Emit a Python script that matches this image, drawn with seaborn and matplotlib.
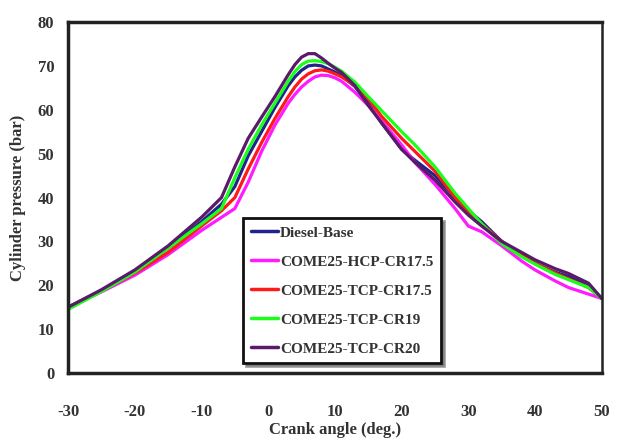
import pandas as pd
import seaborn as sns
import matplotlib.pyplot as plt

# crank angle (deg.)
crank = [-30, -25, -20, -15, -10, -7, -5, -3, -1, 1, 3, 4, 5, 6, 7, 8, 9, 10, 11, 13, 15,
         17, 20, 22, 25, 28, 30, 32, 35, 38, 40, 43, 45, 48, 50]

# cylinder pressure (bar)
diesel_base = [15, 18.8, 23, 28.5, 34.5, 38.5, 42.5, 49.5, 55, 60.5, 65.5, 67.5, 69, 70, 70.2,
               70, 69.3, 68.6, 67.8, 65.3, 61.5, 57, 51, 48.5, 45, 40, 37, 34.5, 30, 27, 25,
               23, 22, 19.8, 17]
hcp_cr175 = [15, 18.5, 22.3, 27, 32.5, 35.5, 37.5, 43.5, 50.5, 56.5, 61.5, 63.5, 65.2, 66.5, 67.5,
             67.9, 67.8, 67.3, 66.5, 64, 61, 57.5, 52, 48, 43, 37.5, 33.5, 32.2, 29, 25.5, 23.5,
             21, 19.5, 18, 17]
tcp_cr175 = [15, 18.7, 22.8, 27.5, 33.5, 37, 40, 46.5, 52.5, 58, 63, 65.2, 67, 68.2, 68.9,
             69.1, 68.8, 68.2, 67.5, 65.5, 62.5, 58.5, 53.5, 50.5, 46, 40, 36.5, 34, 30, 27, 25,
             22.8, 21.5, 19.5, 17]
tcp_cr19 = [14.5, 18.6, 23, 28.5, 34, 37.5, 44.5, 51, 56.5, 61.5, 66.5, 68.7, 70.3, 71.1, 71.2,
            71, 70.5, 69.7, 68.8, 66.3, 63, 59.8, 55, 52, 47, 41, 37.5, 34, 29.5, 26.5, 24.8,
            22.5, 21.3, 19.5, 17]
tcp_cr20 = [15, 19, 23.5, 29, 35.5, 40, 47, 53.5, 58.3, 63, 68, 70.3, 72, 72.8, 72.8,
            71.8, 70.6, 69.5, 68.5, 65.5, 61, 57, 51, 48, 44, 39, 36, 33.5, 30, 27.5, 25.8,
            23.8, 22.7, 20.5, 17]

labels = ['Diesel-Base', 'COME25-HCP-CR17.5', 'COME25-TCP-CR17.5',
          'COME25-TCP-CR19', 'COME25-TCP-CR20']
colors = ['#23238f', '#ff1aff', '#ff1a1a', '#1aff1a', '#5a1a6a']
series = [diesel_base, hcp_cr175, tcp_cr175, tcp_cr19, tcp_cr20]

rows = []
for lab, vals in zip(labels, series):
    for a, p in zip(crank, vals):
        rows.append({'angle': a, 'pressure': p, 'fuel': lab})
df = pd.DataFrame(rows)

sns.set_style('white')
plt.rcParams['font.family'] = ['Liberation Serif', 'DejaVu Serif']
plt.rcParams['font.weight'] = 'bold'
plt.rcParams['axes.unicode_minus'] = False

fig = plt.figure(figsize=(6.2, 4.41), dpi=100)
ax = fig.add_axes([0.1097, 0.154, 0.861, 0.796])

sns.lineplot(data=df, x='angle', y='pressure', hue='fuel', hue_order=labels,
             palette=dict(zip(labels, colors)), sort=False, estimator=None,
             linewidth=2.3, ax=ax)

ax.set_xlim(-30, 50)
ax.set_ylim(0, 80)
ax.set_xticks(range(-30, 51, 10))
ax.set_yticks(range(0, 81, 10))
ax.tick_params(axis='x', direction='out', length=4, width=0.8, color='#999999',
               pad=18, labelsize=12)
ax.tick_params(axis='y', direction='out', length=4, width=0.8, color='#999999',
               pad=6, labelsize=12)
for lbl in ax.get_xticklabels() + ax.get_yticklabels():
    lbl.set_fontweight('bold')
    lbl.set_color('#333333')

for side in ['left', 'bottom', 'top']:
    ax.spines[side].set_linewidth(2.5)
    ax.spines[side].set_color('#222222')
ax.spines['right'].set_linewidth(1.8)
ax.spines['right'].set_color('#222222')

ax.set_xlabel('Crank angle (deg.)', fontsize=12, fontweight='bold', color='#333333', labelpad=2)
ax.set_ylabel('Cylinder pressure (bar)', fontsize=12, fontweight='bold', color='#333333', labelpad=8)

leg = ax.legend(loc='lower left', bbox_to_anchor=(0.328, 0.028), borderaxespad=0,
                frameon=True, fancybox=False, shadow=True, fontsize=11,
                handlelength=1.8, handletextpad=0.1, labelspacing=1.0,
                borderpad=0.5)
leg.get_frame().set_edgecolor('#111111')
leg.get_frame().set_linewidth(2)
for t in leg.get_texts():
    t.set_fontweight('bold')
    t.set_color('#333333')
for h in leg.get_lines():
    h.set_linewidth(2.5)

fig.savefig('out.png', dpi=100)
